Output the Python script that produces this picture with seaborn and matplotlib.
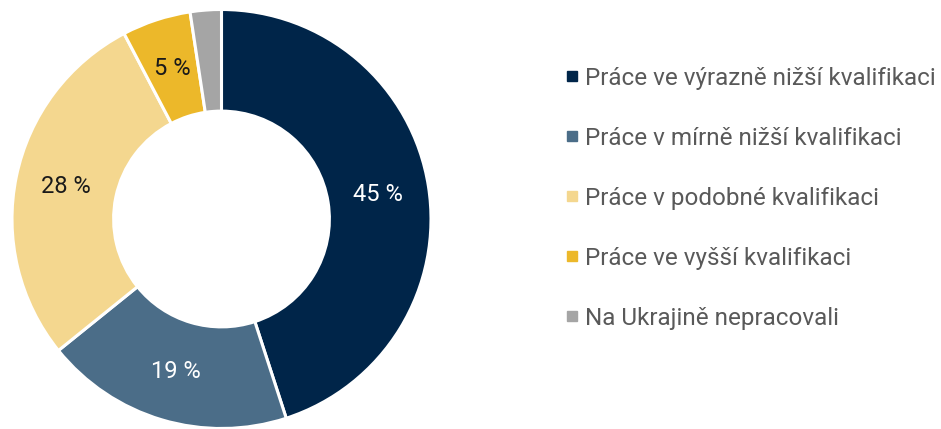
import matplotlib
matplotlib.use("Agg")
import matplotlib.pyplot as plt
from matplotlib.lines import Line2D
import numpy as np
import seaborn as sns

# data
categories = [
    "Práce ve výrazně nižší kvalifikaci",
    "Práce v mírně nižší kvalifikaci",
    "Práce v podobné kvalifikaci",
    "Práce ve vyšší kvalifikaci",
    "Na Ukrajině nepracovali",
]
shares = [45.0, 19.2, 28.1, 5.3, 2.4]
labels = ["45 %", "19 %", "28 %", "5 %", ""]
colors = ["#002549", "#4B6D88", "#F4D78F", "#ECB82A", "#A5A5A5"]
label_colors = ["white", "white", "#1a1a1a", "#1a1a1a", "#1a1a1a"]

sns.set_theme(style="white")
plt.rcParams["font.family"] = ["Roboto", "DejaVu Sans"]

fig = plt.figure(figsize=(9.41, 4.29), dpi=100)
ax = fig.add_axes([12 / 941, 0.5 / 429, 419 / 941, 419 / 429])

ring = 0.485
wedges, texts = ax.pie(
    shares,
    colors=sns.color_palette(colors),
    startangle=90,
    counterclock=False,
    radius=1.0,
    wedgeprops=dict(width=ring, edgecolor="white", linewidth=2.2),
)

# percentage labels in the middle of the ring
for w, lab, c in zip(wedges, labels, label_colors):
    if not lab:
        continue
    ang = np.deg2rad((w.theta1 + w.theta2) / 2)
    r = 1 - ring / 2
    ax.text(r * np.cos(ang), r * np.sin(ang), lab, ha="center", va="center",
            fontsize=17, color=c)

ax.set_xlim(-1.0, 1.0)
ax.set_ylim(-1.0, 1.0)
ax.set_aspect("equal")
ax.axis("off")

handles = [Line2D([0], [0], marker="s", linestyle="", markersize=7.3,
                  markerfacecolor=c, markeredgecolor=c) for c in colors]
leg = fig.legend(handles, categories, loc="upper left",
                 bbox_to_anchor=(556 / 941, 1 - 57 / 429),
                 frameon=False, fontsize=17.5, labelspacing=1.52,
                 handlelength=0.5, handletextpad=0.3, borderaxespad=0)
for t in leg.get_texts():
    t.set_color("#595959")

fig.savefig("out.png", dpi=100)
